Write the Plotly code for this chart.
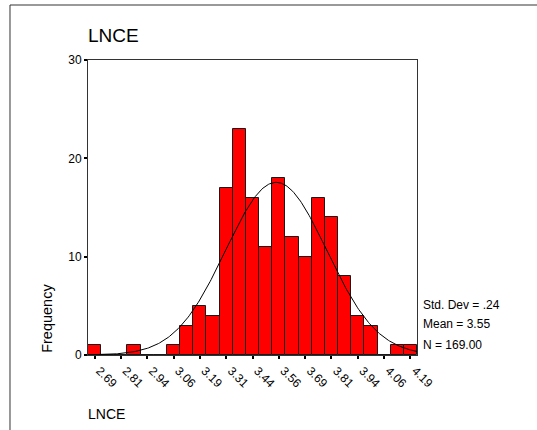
import numpy as np
import plotly.graph_objects as go

# histogram of LNCE, 25 bins of width .0625 starting at 2.65625
bin_start = 2.65625
bin_width = 0.0625
counts = [1, 0, 0, 1, 0, 0, 1, 3, 5, 4, 17, 23, 16, 11, 18, 12, 10, 16, 14, 8, 4, 3, 0, 1, 1]
tick_labels = ['2.69', '2.81', '2.94', '3.06', '3.19', '3.31', '3.44', '3.56',
               '3.69', '3.81', '3.94', '4.06', '4.19']
# stats shown beside the chart
std_dev = 0.24
mean = 3.55
n = 169

centers = [bin_start + bin_width * (i + 0.5) for i in range(len(counts))]
tick_vals = centers[::2]
x_lo = bin_start
x_hi = bin_start + bin_width * len(counts)

# normal curve scaled to counts
xs = np.linspace(x_lo, x_hi, 300)
ys = n * bin_width / (std_dev * np.sqrt(2 * np.pi)) * np.exp(-0.5 * ((xs - mean) / std_dev) ** 2)

fig = go.Figure()
fig.add_trace(go.Bar(x=centers, y=counts, width=bin_width,
                     marker=dict(color='#ff0000', line=dict(color='#1a1a1a', width=1)),
                     showlegend=False))
fig.add_trace(go.Scatter(x=xs, y=ys, mode='lines',
                         line=dict(color='black', width=1), showlegend=False))

font = dict(family='Liberation Sans, Arial', color='black')
fig.update_layout(
    width=537, height=430,
    margin=dict(l=88, r=120, t=60, b=75),
    paper_bgcolor='white', plot_bgcolor='white',
    bargap=0,
    font=dict(family='Liberation Sans, Arial', size=12, color='black'),
    xaxis=dict(range=[x_lo, x_hi], tickvals=tick_vals, ticktext=tick_labels,
               tickangle=45, ticks='outside', ticklen=3, tickwidth=2, tickcolor='black',
               ticklabelshift=5,
               showline=True, mirror=True, linecolor='#333333', linewidth=1,
               showgrid=False, zeroline=False, tickfont=dict(size=12)),
    yaxis=dict(range=[0, 30], tickvals=[0, 10, 20, 30], ticks='outside', ticklen=3,
               tickwidth=2, tickcolor='black', showline=True, mirror=True,
               linecolor='#333333', linewidth=1, showgrid=False, zeroline=False,
               tickfont=dict(size=12)),
)

# outer frame (top and left edges)
fig.add_shape(type='line', xref='paper', yref='paper', x0=-0.2371, y0=1.1864, x1=1.37, y1=1.1864,
              line=dict(color='#777777', width=1.5))
fig.add_shape(type='line', xref='paper', yref='paper', x0=-0.2371, y0=1.1864, x1=-0.2371, y1=-0.27,
              line=dict(color='#333333', width=1))

fig.add_annotation(text='LNCE', xref='paper', yref='paper', x=-0.006, y=1.0847,
                   xanchor='left', yanchor='middle', showarrow=False,
                   font=dict(size=19, **font))
fig.add_annotation(text='LNCE', xref='paper', yref='paper', x=-0.006, y=-0.2,
                   xanchor='left', yanchor='middle', showarrow=False,
                   font=dict(size=14, **font))
fig.add_annotation(text='Frequency', xref='paper', yref='paper', x=-0.1255, y=0.125,
                   xanchor='center', yanchor='middle', textangle=-90, showarrow=False,
                   font=dict(size=14.5, **font))

stats = ['Std. Dev = .24', 'Mean = 3.55', 'N = 169.00']
stat_y = [0.1695, 0.104, 0.034]
for txt, yy in zip(stats, stat_y):
    fig.add_annotation(text=txt, xref='paper', yref='paper', x=1.012, y=yy,
                       xanchor='left', yanchor='middle', showarrow=False,
                       font=dict(size=12, **font))

fig.write_html('out.html', config={'displayModeBar': False},
               post_script="document.body.style.margin='0';")
